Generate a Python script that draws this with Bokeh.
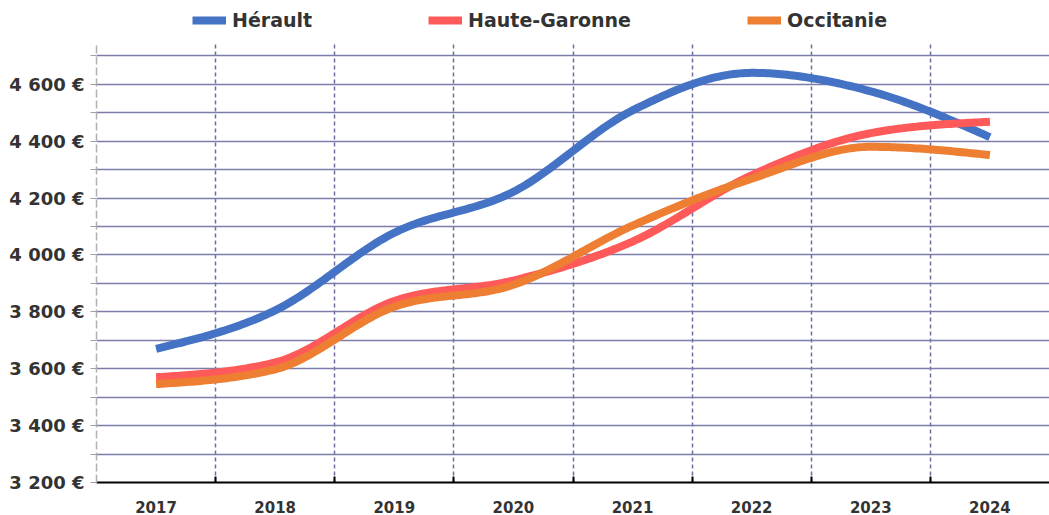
import numpy as np
from bokeh.plotting import figure
from bokeh.models import (Range1d, FixedTicker, Legend, LegendItem)
from bokeh.embed import file_html
from bokeh.resources import INLINE

years = ["2017", "2018", "2019", "2020", "2021", "2022", "2023", "2024"]
herault = [3670, 3805, 4078, 4222, 4508, 4640, 4575, 4414]
haute_garonne = [3570, 3622, 3838, 3910, 4047, 4280, 4428, 4468]
occitanie = [3546, 3598, 3818, 3895, 4103, 4268, 4380, 4351]
y_ticks = [3200, 3400, 3600, 3800, 4000, 4200, 4400, 4600]
y_labels = ["3 200 €", "3 400 €", "3 600 €", "3 800 €", "4 000 €", "4 200 €", "4 400 €", "4 600 €"]

FONT = "DejaVu Sans"
TXT = "#333333"
Y_MIN, Y_TOP = 3200, 4747  # extent of the gridded area


def monotone_x(xs, ys, n=40):
    """d3 curveMonotoneX rendering of the given points."""
    xs = np.asarray(xs, float)
    ys = np.asarray(ys, float)
    k = len(xs)
    h = np.diff(xs)
    s = np.diff(ys) / h
    t = np.zeros(k)
    for i in range(1, k - 1):
        p = (s[i - 1] * h[i] + s[i] * h[i - 1]) / (h[i - 1] + h[i])
        t[i] = (np.sign(s[i - 1]) + np.sign(s[i])) * min(abs(s[i - 1]), abs(s[i]), 0.5 * abs(p))
    t[0] = (3 * s[0] - t[1]) / 2
    t[-1] = (3 * s[-1] - t[-2]) / 2
    out_x, out_y = [], []
    for i in range(k - 1):
        u = np.linspace(0, 1, n, endpoint=(i == k - 2))
        h00 = 2 * u**3 - 3 * u**2 + 1
        h10 = u**3 - 2 * u**2 + u
        h01 = -2 * u**3 + 3 * u**2
        h11 = u**3 - u**2
        out_x.extend(xs[i] + u * h[i])
        out_y.extend(h00 * ys[i] + h10 * h[i] * t[i] + h01 * ys[i + 1] + h11 * h[i] * t[i + 1])
    return out_x, out_y


n = len(years)
centers = [i + 0.5 for i in range(n)]
bounds = [float(i) for i in range(1, n)]

H, BOTTOM = 515, 32
frame_h = H - BOTTOM
px_per_unit = (frame_h - 42) / (Y_TOP - Y_MIN)
y_end = Y_MIN + frame_h / px_per_unit

p = figure(width=1049, height=H, output_backend="svg", toolbar_location=None,
           x_range=Range1d(0, n), y_range=Range1d(Y_MIN, y_end),
           min_border_left=96, min_border_right=0, min_border_top=0, min_border_bottom=BOTTOM)
p.outline_line_color = None
p.background_fill_color = "white"
p.border_fill_color = "white"

# grids
p.xgrid.ticker = FixedTicker(ticks=bounds)
p.xgrid.cross_bounds = (Y_MIN, Y_TOP)
p.xgrid.grid_line_color = "#6e6e9e"
p.xgrid.grid_line_dash = "4 3"
p.xgrid.grid_line_width = 1.5
p.ygrid.ticker = FixedTicker(ticks=list(range(3300, 4800, 100)))
p.ygrid.grid_line_color = "#7d7dab"
p.ygrid.grid_line_width = 1.5

# x axis
xa = p.xaxis[0]
xa.ticker = FixedTicker(ticks=centers, minor_ticks=bounds)
xa.major_label_overrides = {c: y for c, y in zip(centers, years)}
xa.major_tick_line_color = None
xa.minor_tick_in = 6
xa.minor_tick_out = 0
xa.minor_tick_line_color = "black"
xa.minor_tick_line_width = 2
xa.axis_line_color = "black"
xa.axis_line_width = 2
xa.major_label_text_font = FONT
xa.major_label_text_font_style = "bold"
xa.major_label_text_font_size = "15px"
xa.major_label_text_color = TXT
xa.major_label_standoff = 12

# y axis
ya = p.yaxis[0]
ya.bounds = (Y_MIN, Y_TOP)
ya.ticker = FixedTicker(ticks=y_ticks, minor_ticks=list(range(3300, 4800, 200)))
ya.major_label_overrides = {v: l for v, l in zip(y_ticks, y_labels)}
ya.axis_line_color = "#b0b0b0"
ya.axis_line_dash = "8 3"
ya.axis_line_width = 1.5
ya.major_tick_in = 0
ya.major_tick_out = 6
ya.minor_tick_in = 0
ya.minor_tick_out = 6
ya.major_tick_line_color = "#a0a0a0"
ya.minor_tick_line_color = "#a0a0a0"
ya.major_label_text_font = FONT
ya.major_label_text_font_style = "bold"
ya.major_label_text_font_size = "18px"
ya.major_label_text_color = TXT
ya.major_label_standoff = 6

series = [("Hérault", herault, "#4472C4"),
          ("Haute-Garonne", haute_garonne, "#FF5A5A"),
          ("Occitanie", occitanie, "#EE7E32")]
items = []
for name, vals, col in series:
    sx, sy = monotone_x(centers, vals)
    r = p.line(sx, sy, line_color=col, line_width=8, line_join="round")
    items.append(LegendItem(label=name, renderers=[r]))

legend = Legend(items=items, orientation="horizontal", location=(96, 451),
                spacing=116, label_standoff=6, glyph_width=34, glyph_height=16,
                padding=0, margin=0, border_line_color=None, background_fill_alpha=0,
                label_text_font=FONT, label_text_font_style="bold",
                label_text_font_size="19px", label_text_color=TXT)
p.add_layout(legend, "center")

open("out.html", "w").write(file_html(p, INLINE))
